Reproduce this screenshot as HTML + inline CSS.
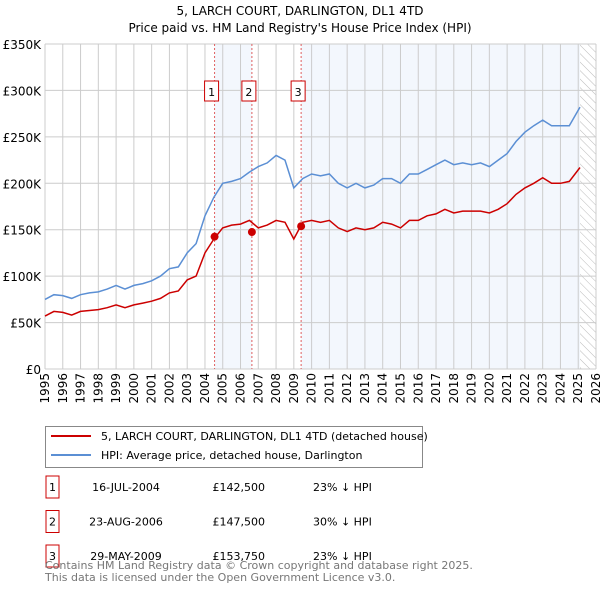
<!DOCTYPE html>
<html><head><meta charset="utf-8"><style>
body{margin:0;background:#fff;font-family:"Liberation Sans","DejaVu Sans",sans-serif}
#wrap{position:relative;width:600px;height:590px;overflow:hidden}
svg text{font-family:"DejaVu Sans","Liberation Sans",sans-serif}
</style></head><body>
<div id="wrap">
<svg id="c" width="600" height="590"></svg>
</div>
<script>
const years=[1995,1995.5,1996,1996.5,1997,1997.5,1998,1998.5,1999,1999.5,2000,2000.5,2001,2001.5,2002,2002.5,2003,2003.5,2004,2004.5,2005,2005.5,2006,2006.5,2007,2007.5,2008,2008.5,2009,2009.5,2010,2010.5,2011,2011.5,2012,2012.5,2013,2013.5,2014,2014.5,2015,2015.5,2016,2016.5,2017,2017.5,2018,2018.5,2019,2019.5,2020,2020.5,2021,2021.5,2022,2022.5,2023,2023.5,2024,2024.5,2025.1];
const hpi=[75,80,79,76,80,82,83,86,90,86,90,92,95,100,108,110,125,135,165,185,200,202,205,212,218,222,230,225,195,205,210,208,210,200,195,200,195,198,205,205,200,210,210,215,220,225,220,222,220,222,218,225,232,245,255,262,268,262,262,262,282];
const price=[57,62,61,58,62,63,64,66,69,66,69,71,73,76,82,84,96,100,125,140,152,155,156,160,152,155,160,158,140,158,160,158,160,152,148,152,150,152,158,156,152,160,160,165,167,172,168,170,170,170,168,172,178,188,195,200,206,200,200,202,217];
const saleX=[2004.54,2006.64,2009.41];
const saleY=[142.5,147.5,153.75];
const yTicks=[0,50,100,150,200,250,300,350];
const yLabels=["£0","£50K","£100K","£150K","£200K","£250K","£300K","£350K"];
const xTicks=[];for(let y=1995;y<=2026;y++)xTicks.push(y);
const X0=45,X1=596,Y0=369,Y1=44;
const sx=v=>X0+(v-1995)/31*(X1-X0);
const sy=v=>Y0-v/350*(Y0-Y1);
const svg=document.getElementById('c');const NS='http://www.w3.org/2000/svg';
function el(t,a,p){const e=document.createElementNS(NS,t);for(const k in a)e.setAttribute(k,a[k]);(p||svg).appendChild(e);return e;}
function tx(x,y,s,a,p){const e=el('text',Object.assign({x:x,y:y,'font-size':12,fill:'#000'},a||{}),p);e.textContent=s;return e;}
let t=tx(300,15,'5, LARCH COURT, DARLINGTON, DL1 4TD',{'text-anchor':'middle'});

t=tx(300,32,"Price paid vs. HM Land Registry's House Price Index (HPI)",{'text-anchor':'middle'});

let r=el('rect',{x:sx(saleX[0]),y:Y1,width:sx(saleX[1])-sx(saleX[0]),height:Y0-Y1,fill:'#eef3fc',opacity:0.7});

r=el('rect',{x:sx(saleX[2]),y:Y1,width:sx(2025.1)-sx(saleX[2]),height:Y0-Y1,fill:'#eef3fc',opacity:0.7});

const defs=el('defs',{});const pat=el('pattern',{id:'h',width:6,height:6,patternUnits:'userSpaceOnUse',patternTransform:'rotate(-45)'},defs);
el('line',{x1:0,y1:0,x2:0,y2:6,stroke:'#bbb','stroke-width':1},pat);
r=el('rect',{x:sx(2025.1),y:Y1,width:X1-sx(2025.1),height:Y0-Y1,fill:'url(#h)'});

yTicks.forEach((v,i)=>{let l=el('line',{x1:X0,x2:X1,y1:sy(v),y2:sy(v),stroke:'#ccc'});

let tt=tx(X0-4,sy(v)+5,yLabels[i],{'text-anchor':'end'});});
xTicks.forEach(v=>{let l=el('line',{x1:sx(v),x2:sx(v),y1:Y1,y2:Y0,stroke:'#ccc'});

let tt=tx(sx(v)+4,Y0+4,String(v),{'text-anchor':'end',transform:`rotate(-90 ${sx(v)+4} ${Y0+4})`});
});
let ax=el('line',{x1:X0,x2:X0,y1:Y1,y2:Y0,stroke:'#ccc'});
saleX.forEach((v,i)=>{let l=el('line',{x1:sx(v),x2:sx(v),y1:Y1,y2:Y0,stroke:'#e06060','stroke-dasharray':'2,2','stroke-width':1});

const cx=sx(v)-3;let g=el('g',{});
el('rect',{x:cx-7,y:81,width:14,height:20,fill:'#fff',stroke:'#c00'},g);
tx(cx,96,String(i+1),{'text-anchor':'middle','font-size':11},g);});
function path(arr,col,name){let d=arr.map((v,i)=>(i?'L':'M')+sx(years[i]).toFixed(1)+','+sy(v).toFixed(1)).join('');
let p=el('path',{d:d,fill:'none',stroke:col,'stroke-width':1.5});}
path(hpi,'#5b8fd4','hpi-line');path(price,'#cc0000','price-line');
saleX.forEach((v,i)=>{let c=el('circle',{cx:sx(v),cy:sy(saleY[i]),r:4,fill:'#cc0000'});});
let lg=el('g',{});
el('rect',{x:45.5,y:426.5,width:377,height:41,fill:'#fff',stroke:'#888'},lg);
el('line',{x1:51,x2:91,y1:436,y2:436,stroke:'#cc0000','stroke-width':2},lg);
tx(101,440,'5, LARCH COURT, DARLINGTON, DL1 4TD (detached house)',{'font-size':11},lg);
el('line',{x1:51,x2:91,y1:455,y2:455,stroke:'#5b8fd4','stroke-width':2},lg);
tx(101,459,'HPI: Average price, detached house, Darlington',{'font-size':11},lg);
const rows=[['16-JUL-2004','£142,500','23% ↓ HPI'],['23-AUG-2006','£147,500','30% ↓ HPI'],['29-MAY-2009','£153,750','23% ↓ HPI']];
rows.forEach((rw,i)=>{const y=491+i*34.5;let g=el('g',{});
el('rect',{x:46,y:y-15,width:13,height:22,fill:'#fff',stroke:'#c00'},g);
tx(52.5,y,String(i+1),{'text-anchor':'middle','font-size':11},g);
tx(126,y,rw[0],{'text-anchor':'middle','font-size':11},g);
tx(265,y,rw[1],{'text-anchor':'end','font-size':11},g);
tx(313,y,rw[2],{'font-size':11},g);});
t=tx(45,569,'Contains HM Land Registry data © Crown copyright and database right 2025.',{'font-size':11,fill:'#777'});

t=tx(45,581,'This data is licensed under the Open Government Licence v3.0.',{'font-size':11,fill:'#777'});

</script>
</body></html>
